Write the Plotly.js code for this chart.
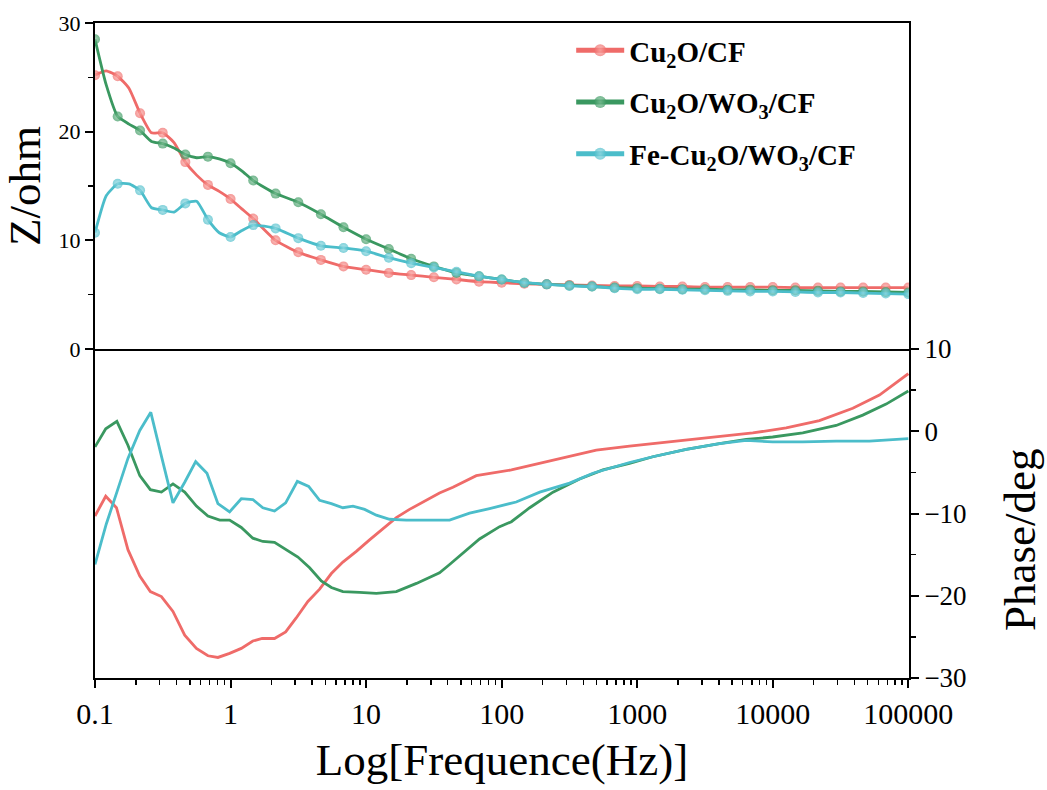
<!DOCTYPE html>
<html><head><meta charset="utf-8">
<script src="https://cdn.plot.ly/plotly-3.0.1.min.js"></script>
<style>html,body{margin:0;padding:0;background:#fff}</style>
</head><body><div id="chart" style="width:1047px;height:790px"></div>
<script>
// ---------- data ----------
const seriesNames = ["<b>Cu<sub>2</sub>O/CF</b>", "<b>Cu<sub>2</sub>O/WO<sub>3</sub>/CF</b>", "<b>Fe-Cu<sub>2</sub>O/WO<sub>3</sub>/CF</b>"];

// impedance |Z| (ohm) vs frequency (Hz)
const zFreq = [0.1,0.121,0.147,0.178,0.215,0.261,0.316,0.383,0.464,0.562,0.681,0.825,1,1.21,1.47,2.15,3.16,4.64,6.81,10,14.7,21.5,31.6,46.4,68.1,100,147,215,316,464,681,1000,1468,2154,3162,4642,6813,10000,14678,21544,31623,46416,68129,100000];
const zCu2O = [25.2,25.6,25.1,24.0,21.7,19.9,19.9,19.0,17.2,16.0,15.1,14.5,13.8,12.9,12.0,10.0,8.9,8.2,7.6,7.3,7.0,6.8,6.6,6.4,6.2,6.1,6.0,5.95,5.9,5.85,5.8,5.8,5.75,5.75,5.7,5.7,5.7,5.7,5.65,5.65,5.65,5.65,5.65,5.65];
const zCu2OWO3 = [28.5,24.3,21.4,20.7,20.1,19.1,18.9,18.5,17.9,17.6,17.7,17.5,17.1,16.4,15.5,14.3,13.5,12.4,11.2,10.1,9.2,8.3,7.6,7.0,6.7,6.4,6.1,5.95,5.85,5.75,5.65,5.6,5.55,5.5,5.5,5.45,5.45,5.4,5.4,5.35,5.3,5.3,5.25,5.2];
const zFeCu2OWO3 = [10.7,14.1,15.2,15.2,14.6,13.0,12.8,12.6,13.4,13.6,11.9,10.7,10.3,10.9,11.4,11.1,10.2,9.5,9.3,9.0,8.4,7.9,7.5,7.1,6.7,6.4,6.1,5.95,5.8,5.75,5.6,5.5,5.5,5.45,5.4,5.35,5.3,5.3,5.25,5.2,5.2,5.15,5.1,5.05];

// phase (deg) vs frequency (Hz)
const phFreqCu2O = [0.1,0.12,0.144,0.175,0.214,0.256,0.309,0.376,0.459,0.56,0.681,0.807,0.984,1.2,1.46,1.71,2.11,2.55,3.05,3.72,4.54,5.54,6.74,8.47,10.6,13.3,16.7,20.9,26.2,34.8,43.7,65,118,213,317,499,877,1303,2298,4043,7126,12560,22090,38930,61210,100000];
const phCu2O = [-10.3,-7.9,-9.3,-14.4,-17.6,-19.5,-20.1,-21.9,-24.8,-26.4,-27.3,-27.5,-27.0,-26.4,-25.5,-25.2,-25.2,-24.4,-22.7,-20.7,-19.2,-17.3,-15.9,-14.6,-13.2,-11.8,-10.5,-9.5,-8.6,-7.5,-6.8,-5.4,-4.7,-3.7,-3.1,-2.3,-1.8,-1.5,-1.0,-0.6,-0.2,0.4,1.3,2.8,4.4,7.0];
const phFreqCu2OWO3 = [0.1,0.12,0.145,0.175,0.214,0.256,0.309,0.376,0.459,0.56,0.681,0.832,0.984,1.2,1.46,1.73,2.11,2.55,3.14,3.83,4.67,5.54,6.74,8.96,11.9,16.7,23.5,34.8,41.3,68.7,96.6,118,161,239,376,558,877,1303,2298,4043,6368,9980,16640,29360,46130,68570,100000];
const phCu2OWO3 = [-1.9,0.3,1.2,-1.7,-5.4,-7.1,-7.4,-6.4,-7.4,-9.1,-10.3,-10.8,-10.8,-11.7,-13.0,-13.4,-13.5,-14.4,-15.3,-16.6,-18.2,-19.0,-19.5,-19.6,-19.7,-19.5,-18.5,-17.2,-16.2,-13.1,-11.6,-11.0,-9.3,-7.4,-5.8,-4.7,-3.9,-3.1,-2.2,-1.5,-1.0,-0.7,-0.2,0.7,1.96,3.3,4.9];
const phFreqFeCu2OWO3 = [0.1,0.121,0.145,0.175,0.214,0.258,0.312,0.376,0.459,0.553,0.67,0.807,0.984,1.2,1.46,1.73,2.11,2.55,3.11,3.77,4.54,5.54,6.74,8.0,9.75,11.9,14.9,19.8,41.3,58,81.5,128,191,317,471,877,1303,2298,4043,6368,9980,16640,29360,51640,100000];
const phFeCu2OWO3 = [-16.2,-11.3,-7.4,-3.3,0.1,2.3,-3.3,-8.7,-6.2,-3.7,-5.1,-8.8,-9.8,-8.2,-8.3,-9.3,-9.7,-8.7,-6.1,-6.7,-8.4,-8.8,-9.3,-9.1,-9.5,-10.2,-10.7,-10.8,-10.8,-9.95,-9.4,-8.6,-7.4,-6.3,-5.1,-3.8,-3.1,-2.2,-1.5,-1.1,-1.3,-1.3,-1.2,-1.2,-0.9];

const xTickVals = [0.1,1,10,100,1000,10000,100000];
const xTickText = ["0.1","1","10","100","1000","10000","100000"];

// ---------- style ----------
const colors = ["#EF6B69", "#3A9860", "#4BBDCA"];
const lightColors = ["#FBB0AC", "#86C49C", "#9EDDE5"];
const serif = "Liberation Serif, Times New Roman, serif";

// markers are drawn on the 1/6-decade grid only
const markerSizes = zFreq.map(f => {
  const v = Math.log10(f) * 6;
  return Math.abs(v - Math.round(v)) < 0.06 ? 10 : 0;
});

const minorVals = [];
for (let d = -1; d < 5; d++) for (let m = 2; m <= 9; m++) minorVals.push(m * Math.pow(10, d));

const zSeries = [zCu2O, zCu2OWO3, zFeCu2OWO3];
const phX = [phFreqCu2O, phFreqCu2OWO3, phFreqFeCu2OWO3];
const phY = [phCu2O, phCu2OWO3, phFeCu2OWO3];

const traces = [];
zSeries.forEach((ys, i) => {
  traces.push({
    x: zFreq, y: ys, xaxis: "x2", yaxis: "y",
    type: "scatter", mode: "lines+markers", name: seriesNames[i],
    legendgroup: "g" + i,
    line: {color: colors[i], width: 2.8, shape: "spline", smoothing: 0.5},
    marker: {color: colors[i], size: markerSizes, line: {width: 0},
             gradient: {type: "radial", color: lightColors[i]}},
    hoverinfo: "x+y"
  });
});
phY.forEach((ys, i) => {
  traces.push({
    x: phX[i], y: ys, xaxis: "x", yaxis: "y2",
    type: "scatter", mode: "lines", showlegend: false,
    line: {color: colors[i], width: 2.8},
    hoverinfo: "x+y"
  });
});

const split = (678 - 349) / 655;

const layout = {
  width: 1047, height: 790,
  margin: {l: 95, r: 138, t: 23, b: 112},
  paper_bgcolor: "#fff", plot_bgcolor: "#fff",
  font: {family: serif, color: "#000"},
  showlegend: true,
  legend: {
    x: 0.585, y: 0.997, xanchor: "left", yanchor: "top",
    bgcolor: "rgba(0,0,0,0)", borderwidth: 0,
    font: {family: serif, size: 29, color: "#000"},
    itemsizing: "constant", itemwidth: 48,
    traceorder: "grouped", tracegroupgap: 11
  },
  xaxis: {
    type: "log", range: [-1, 5.005], anchor: "y2", domain: [0, 1],
    tickmode: "array", tickvals: xTickVals, ticktext: xTickText,
    ticks: "outside", ticklen: 8, tickwidth: 2, tickcolor: "#000",
    showline: true, linewidth: 2, linecolor: "#000", mirror: false,
    showgrid: false, zeroline: false,
    minor: {tickmode: "array", tickvals: minorVals, ticks: "outside", ticklen: 5, tickwidth: 1.5, tickcolor: "#000", showgrid: false},
    tickfont: {family: serif, size: 30, color: "#000"},
    title: {text: "Log[Frequence(Hz)]", font: {family: serif, size: 45, color: "#000"}, standoff: 14}
  },
  xaxis2: {
    type: "log", range: [-1, 5.005], anchor: "y", matches: "x",
    showticklabels: false, ticks: "",
    showline: true, linewidth: 2, linecolor: "#000", mirror: true,
    showgrid: false, zeroline: false
  },
  yaxis: {
    domain: [split, 1], range: [0, 30], anchor: "x2", side: "left",
    tickmode: "array", tickvals: [0, 10, 20, 30],
    ticks: "outside", ticklen: 8, tickwidth: 2, tickcolor: "#000",
    minor: {tickmode: "array", tickvals: [5, 15, 25], ticks: "outside", ticklen: 5, tickwidth: 1.5, tickcolor: "#000"},
    showline: true, linewidth: 2, linecolor: "#000", mirror: true,
    showgrid: false, zeroline: false,
    tickfont: {family: serif, size: 22, color: "#000"},
    title: {text: "Z/ohm", font: {family: serif, size: 45, color: "#000"}, standoff: 16}
  },
  yaxis2: {
    domain: [0, split], range: [-30, 10], anchor: "x", side: "right",
    tickmode: "array", tickvals: [-30, -20, -10, 0, 10],
    ticks: "outside", ticklen: 8, tickwidth: 2, tickcolor: "#000",
    minor: {tickmode: "array", tickvals: [-25, -15, -5, 5], ticks: "outside", ticklen: 5, tickwidth: 1.5, tickcolor: "#000"},
    showline: true, linewidth: 2, linecolor: "#000", mirror: true,
    showgrid: false, zeroline: false,
    tickfont: {family: serif, size: 27, color: "#000"}
  },
  annotations: [{
    text: "Phase/deg", xref: "paper", yref: "paper",
    x: (1020 - 95) / 814, y: (678 - 540) / 655,
    xanchor: "center", yanchor: "middle", textangle: -90, showarrow: false,
    font: {family: serif, size: 45, color: "#000"}
  }]
};

Plotly.newPlot("chart", traces, layout, {displayModeBar: false, staticPlot: true});
</script>
</body></html>
